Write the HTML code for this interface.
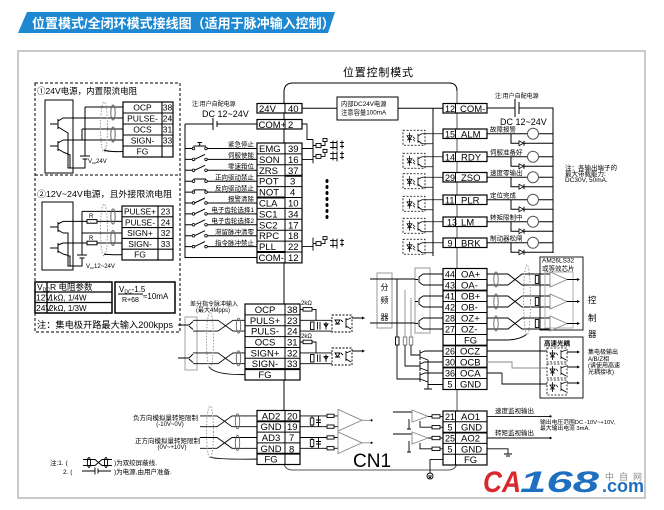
<!DOCTYPE html>
<html><head><meta charset="utf-8"><style>
html,body{margin:0;padding:0;background:#fff;}
svg{display:block;}
text{font-family:"Liberation Sans","Noto Sans CJK SC",sans-serif;fill:#000;}
</style></head><body>
<svg width="664" height="510" viewBox="0 0 664 510" xmlns="http://www.w3.org/2000/svg">
<rect width="664" height="510" fill="#fff"/>
<!-- Banner -->
<polygon points="27,12 335,12 328,33 18,33" fill="#1e88d2"/>
<text x="32" y="28" font-size="13" font-weight="bold" style="fill:#fff">位置模式/全闭环模式接线图（适用于脉冲输入控制）</text>
<!-- Frame -->
<rect x="18" y="51" width="627" height="447" fill="none" stroke="#c9c9c9" stroke-width="2"/>
<text x="343" y="76" font-size="11" letter-spacing="0.8">位置控制模式</text>

<!-- CN1 main box -->
<path d="M284,462 V92 Q284,83 293,83 H449 Q457,83 457,91" fill="none" stroke="#000"/>
<path d="M457,91 V461" stroke="#aaa" stroke-width="2" fill="none"/>
<path d="M457,461 Q457,470 448,470 H293 Q284,470 284,462" stroke="#555" fill="none"/>
<text x="353" y="467" font-size="19">CN1</text>

<!-- ============ Section 1/2 dashed box ============ -->
<g fill="none" stroke="#000">
<rect x="35" y="83" width="145" height="249" stroke-dasharray="3,2"/>
<path d="M35,175 H180" stroke-dasharray="3,2"/>
<rect x="45" y="100" width="28" height="73"/>
<path d="M50,124 H58 M58,119 V129 M58,121 L63,118 M58,127 L63,130 M50,146 H58 M58,141 V151 M58,143 L63,140 M58,149 L63,152"/>
<path d="M63,118 H123 M63,140 H123 M85,107 H123 M85,107 V156 M82,129 H123 M82,129 V140"/>
<path d="M80,156 H90 M82.5,159 H87.5 M85,159 V168 H68 V133 L63,130 M63,152 L70,155 V168"/>
<rect x="123" y="102" width="50" height="55" stroke-width="1.2"/>
<path d="M123,113 H173 M123,124 H173 M123,135 H173 M123,146 H173 M162,102 V157" stroke-width="1.1"/>
<ellipse cx="104" cy="127" rx="3.5" ry="25" stroke="#999" stroke-dasharray="1.5,1.5"/>
<ellipse cx="113" cy="112.5" rx="2.2" ry="7.5" stroke="#666"/>
<ellipse cx="113" cy="134.5" rx="2.2" ry="7.5" stroke="#666"/>
<path d="M104,150 Q108,152 123,151.5"/>
<rect x="42" y="202" width="31" height="68"/>
<path d="M50,227 H58 M58,222 V232 M58,224 L63,221.4 M58,230 L63,233 M50,248 H58 M58,243 V253 M58,245 L63,243 M58,251 L63,254"/>
<path d="M82,211.4 H122 M82,233 H122 M82,211.4 V255 M77,255 H87 M79.5,258 H84.5 M82,258 V266 H68 V233 L63,233 M63,254 L70,256 V266"/>
<path d="M63,221.4 H87 M97,221.4 H122 M63,243 H87 M97,243 H122"/>
<rect x="87" y="219.6" width="10" height="3.6"/>
<rect x="87" y="241.2" width="10" height="3.6"/>
<rect x="122" y="206" width="51" height="54" stroke-width="1.2"/>
<path d="M122,216.8 H173 M122,227.6 H173 M122,238.4 H173 M122,249.2 H173 M158,206 V260" stroke-width="1.1"/>
<ellipse cx="104" cy="230" rx="3.5" ry="26" stroke="#999" stroke-dasharray="1.5,1.5"/>
<ellipse cx="113" cy="216.5" rx="2.2" ry="7.5" stroke="#666"/>
<ellipse cx="113" cy="238" rx="2.2" ry="7.5" stroke="#666"/>
<path d="M104,254 Q108,255 122,254.6"/>
<rect x="35" y="282" width="77" height="31" stroke-width="1.5"/>
<path d="M35,292 H112 M35,302.5 H112 M47,282 V313" stroke-width="1.3"/>
<rect x="115" y="282" width="60" height="31" stroke-width="1.5"/>
<path d="M118,294 H143"/>
</g>
<text x="37" y="94" font-size="8.5">①24V电源，内置限流电阻</text>
<text x="37" y="197" font-size="8.6" textLength="135" lengthAdjust="spacingAndGlyphs">②12V~24V电源，且外接限流电阻</text>
<g font-size="8.5" text-anchor="middle">
<text x="142.5" y="110.5">OCP</text><text x="142.5" y="121.5">PULSE-</text><text x="142.5" y="132.5">OCS</text><text x="142.5" y="143.5">SIGN-</text><text x="142.5" y="154.5">FG</text>
<text x="167.5" y="110.5">38</text><text x="167.5" y="121.5">24</text><text x="167.5" y="132.5">31</text><text x="167.5" y="143.5">33</text>
<text x="140" y="214.5" font-size="8.3">PULSE+</text><text x="140" y="225.3" font-size="8.3">PULSE-</text><text x="140" y="236.1">SIGN+</text><text x="140" y="246.9">SIGN-</text><text x="140" y="257.6">FG</text>
<text x="165.5" y="214.5">23</text><text x="165.5" y="225.3">24</text><text x="165.5" y="236.1">32</text><text x="165.5" y="246.9">33</text>
</g>
<g font-size="6">
<text x="88" y="163">V<tspan font-size="4" dy="1">cc</tspan><tspan dy="-1">24V</tspan></text>
<text x="86" y="268">V<tspan font-size="4" dy="1">cc</tspan><tspan dy="-1">12~24V</tspan></text>
<text x="89" y="218">R</text><text x="89" y="239.8">R</text>
</g>
<g font-size="8.5">
<text x="37" y="290">V<tspan font-size="5" dy="1.5">DC</tspan></text>
<text x="50" y="290">R  电阻参数</text>
<text x="36" y="300.5">12V</text><text x="49" y="300.5" font-size="8">1kΩ, 1/4W</text>
<text x="36" y="311">24V</text><text x="49" y="311" font-size="8">2kΩ, 1/3W</text>
<text x="119" y="292" font-size="8">V<tspan font-size="5" dy="1.5">DC</tspan><tspan dy="-1.5">-1.5</tspan></text>
<text x="122" y="302" font-size="7">R+68</text>
<text x="143" y="299" font-size="8">≈10mA</text>
</g>
<text x="37" y="328" font-size="9" textLength="136" lengthAdjust="spacingAndGlyphs">注：集电极开路最大输入200kpps</text>

<!-- ============ Switch inputs ============ -->
<g fill="none" stroke="#000">
<path d="M185,124 H213 M213,118 V130 M217,121 V127 M217,124 H257 M185,124 V257.5 H257"/>
<path d="M185,148.5 H192 M207.3,148.5 H257 M193.5,146 H206 M199.7,146 V142.5 M197.5,142.5 H202"/>
<path d="M185,159.4 H192 M207.3,159.4 H257 M194.5,159.4 L205,154.4"/>
<path d="M185,170.3 H192 M207.3,170.3 H257 M194.5,170.3 L205,165.3"/>
<path d="M185,181.2 H192 M207.3,181.2 H257 M193.5,179 H206"/>
<path d="M185,192.1 H192 M207.3,192.1 H257 M193.5,189.9 H206"/>
<path d="M185,203 H192 M207.3,203 H257 M194.5,203 L205,198"/>
<path d="M185,213.9 H192 M207.3,213.9 H257 M194.5,213.9 L205,208.9"/>
<path d="M185,224.8 H192 M207.3,224.8 H257 M194.5,224.8 L205,219.8"/>
<path d="M185,235.7 H192 M207.3,235.7 H257 M194.5,235.7 L205,230.7"/>
<path d="M185,246.6 H192 M207.3,246.6 H257 M194.5,246.6 L205,241.6"/>
</g>
<g fill="#fff" stroke="#000" stroke-width="0.8">
<circle cx="193.5" cy="148.5" r="1.3"/><circle cx="206" cy="148.5" r="1.3"/>
<circle cx="193.5" cy="159.4" r="1.3"/><circle cx="206" cy="159.4" r="1.3"/>
<circle cx="193.5" cy="170.3" r="1.3"/><circle cx="206" cy="170.3" r="1.3"/>
<circle cx="193.5" cy="181.2" r="1.3"/><circle cx="206" cy="181.2" r="1.3"/>
<circle cx="193.5" cy="192.1" r="1.3"/><circle cx="206" cy="192.1" r="1.3"/>
<circle cx="193.5" cy="203" r="1.3"/><circle cx="206" cy="203" r="1.3"/>
<circle cx="193.5" cy="213.9" r="1.3"/><circle cx="206" cy="213.9" r="1.3"/>
<circle cx="193.5" cy="224.8" r="1.3"/><circle cx="206" cy="224.8" r="1.3"/>
<circle cx="193.5" cy="235.7" r="1.3"/><circle cx="206" cy="235.7" r="1.3"/>
<circle cx="193.5" cy="246.6" r="1.3"/><circle cx="206" cy="246.6" r="1.3"/>
</g>
<g font-size="6.5" text-anchor="end">
<text x="254" y="146.7">紧急停止</text>
<text x="254" y="157.6">伺服使能</text>
<text x="254" y="168.5">零速箝位</text>
<text x="254" y="179.4">正向驱动禁止</text>
<text x="254" y="190.3">反向驱动禁止</text>
<text x="254" y="201.2">报警清除</text>
<text x="254" y="212.1">电子齿轮选择1</text>
<text x="254" y="223">电子齿轮选择2</text>
<text x="254" y="233.9">滞留脉冲清零</text>
<text x="254" y="244.8">指令脉冲禁止</text>
</g>
<text x="192" y="106" font-size="6">注:用户自配电源</text>
<text x="202" y="117" font-size="9">DC 12~24V</text>

<!-- Table A -->
<g fill="#fff" stroke="#000" stroke-width="1.2">
<rect x="257" y="103.5" width="45" height="9.5"/>
<rect x="257" y="119.5" width="45" height="9.5"/>
<rect x="257" y="143" width="45" height="119.9"/>
</g>
<path d="M285,103.5 V113 M285,119.5 V129 M285,143 V262.9 M257,153.9 H302 M257,164.8 H302 M257,175.7 H302 M257,186.6 H302 M257,197.5 H302 M257,208.4 H302 M257,219.3 H302 M257,230.2 H302 M257,241.1 H302 M257,252 H302" stroke="#000" fill="none"/>
<path d="M285,175.7 H302 M257,197.5 H285 M257,252 H285" stroke="#000" stroke-width="2" fill="none"/>
<g font-size="9.5">
<text x="259" y="111.8">24V</text><text x="288" y="111.8">40</text>
<text x="258.5" y="127.8">COM+</text><text x="288" y="127.8">2</text>
<text x="259" y="152">EMG</text><text x="288" y="152">39</text>
<text x="259" y="162.9">SON</text><text x="288" y="162.9">16</text>
<text x="259" y="173.8">ZRS</text><text x="288" y="173.8">37</text>
<text x="259" y="184.7">POT</text><text x="290" y="184.7">3</text>
<text x="259" y="195.6">NOT</text><text x="290" y="195.6">4</text>
<text x="259" y="206.5">CLA</text><text x="288" y="206.5">10</text>
<text x="259" y="217.4">SC1</text><text x="288" y="217.4">34</text>
<text x="259" y="228.3">SC2</text><text x="288" y="228.3">17</text>
<text x="259" y="239.2">RPC</text><text x="288" y="239.2">18</text>
<text x="259" y="250.1">PLL</text><text x="288" y="250.1">22</text>
<text x="258.5" y="261">COM-</text><text x="288" y="261">12</text>
</g>

<!-- Relays -->
<g fill="none" stroke="#000" stroke-width="0.9">
<path d="M302,124 H307 V139.5 H313"/>
<path d="M302,148.5 H313 M313,139.5 V152.5 M313,145.5 H316 M321,145.5 H325 V141.5 M330,142.5 H337 M330,147.5 H337 M333,140.5 V149.5 M337,140.5 V150.5 M340,142.5 H344 M340,146.5 H344 M342,140.5 V148.5"/>
<rect x="316" y="143.5" width="5" height="4"/><rect x="323" y="138.5" width="4" height="3"/>
<path d="M302,159.4 H313 M313,150.4 V163.4 M313,156.4 H316 M321,156.4 H325 V152.4 M330,153.4 H337 M330,158.4 H337 M333,151.4 V160.4 M337,151.4 V161.4 M340,153.4 H344 M340,157.4 H344 M342,151.4 V159.4"/>
<rect x="316" y="154.4" width="5" height="4"/><rect x="323" y="149.4" width="4" height="3"/>
<path d="M302,246.6 H313 M313,237.6 V250.6 M313,243.6 H316 M321,243.6 H325 V239.6 M330,240.6 H337 M330,245.6 H337 M333,238.6 V247.6 M337,238.6 V248.6 M340,240.6 H344 M340,244.6 H344 M342,238.6 V246.6"/>
<rect x="316" y="241.6" width="5" height="4"/><rect x="323" y="236.6" width="4" height="3"/>
</g>
<g fill="#000">
<ellipse cx="327" cy="181" rx="1.5" ry="2"/><ellipse cx="327" cy="187" rx="1.5" ry="2"/><ellipse cx="327" cy="193" rx="1.5" ry="2"/><ellipse cx="327" cy="199" rx="1.5" ry="2"/><ellipse cx="327" cy="205" rx="1.5" ry="2"/><ellipse cx="327" cy="211" rx="1.5" ry="2"/><ellipse cx="327" cy="217" rx="1.5" ry="2"/>
</g>

<!-- Internal 24V -->
<g fill="none" stroke="#000">
<path d="M302,108.3 H337 M398,108.3 H443"/>
<rect x="337" y="97" width="61" height="23"/>
</g>
<text x="341" y="106" font-size="6.3">内部DC24V电源</text>
<text x="341" y="114.5" font-size="6.3">注意容量100mA</text>

<!-- Right outputs -->
<g fill="none" stroke="#000">
<path d="M433,108 V256"/>
<path d="M487,108 H515 M515,99 V117 M519,102 V114 M519,108 H553 V253"/>
</g>
<text x="495" y="98" font-size="6">注:用户自配电源</text>
<text x="500" y="125" font-size="9">DC 12~24V</text>
<g font-size="6.5">
<text x="565" y="170">注：各输出端子的</text>
<text x="565" y="176">最大带载能力:</text>
<text x="565" y="182">DC30V, 50mA.</text>
</g>
<g fill="none" stroke="#000" stroke-width="0.8">
<g transform="translate(0,133.75)"><rect x="403" y="-3.5" width="22" height="15" stroke-dasharray="2,1.5"/><path d="M407,2 H412 L409.5,6 Z M407,6 H412 M409.5,-1 V9 M413,3 L415,5 M413,5.5 L415,7.5 M418,0 V9 M418,2 L422,-0 M418,7 L422,10 M422,0 H443 M422,10 H433"/></g>
<g transform="translate(0,156.75)"><rect x="403" y="-3.5" width="22" height="15" stroke-dasharray="2,1.5"/><path d="M407,2 H412 L409.5,6 Z M407,6 H412 M409.5,-1 V9 M413,3 L415,5 M413,5.5 L415,7.5 M418,0 V9 M418,2 L422,-0 M418,7 L422,10 M422,0 H443 M422,10 H433"/></g>
<g transform="translate(0,177.25)"><rect x="403" y="-3.5" width="22" height="15" stroke-dasharray="2,1.5"/><path d="M407,2 H412 L409.5,6 Z M407,6 H412 M409.5,-1 V9 M413,3 L415,5 M413,5.5 L415,7.5 M418,0 V9 M418,2 L422,-0 M418,7 L422,10 M422,0 H443 M422,10 H433"/></g>
<g transform="translate(0,199.75)"><rect x="403" y="-3.5" width="22" height="15" stroke-dasharray="2,1.5"/><path d="M407,2 H412 L409.5,6 Z M407,6 H412 M409.5,-1 V9 M413,3 L415,5 M413,5.5 L415,7.5 M418,0 V9 M418,2 L422,-0 M418,7 L422,10 M422,0 H443 M422,10 H433"/></g>
<g transform="translate(0,221.75)"><rect x="403" y="-3.5" width="22" height="15" stroke-dasharray="2,1.5"/><path d="M407,2 H412 L409.5,6 Z M407,6 H412 M409.5,-1 V9 M413,3 L415,5 M413,5.5 L415,7.5 M418,0 V9 M418,2 L422,-0 M418,7 L422,10 M422,0 H443 M422,10 H433"/></g>
<g transform="translate(0,242.75)"><rect x="403" y="-3.5" width="22" height="15" stroke-dasharray="2,1.5"/><path d="M407,2 H412 L409.5,6 Z M407,6 H412 M409.5,-1 V9 M413,3 L415,5 M413,5.5 L415,7.5 M418,0 V9 M418,2 L422,-0 M418,7 L422,10 M422,0 H443 M422,10 H433"/></g>
</g>
<g fill="none" stroke="#000">
<g transform="translate(0,133.75)"><path d="M487,0 H527.5 M538.5,0 H553 M511,0 V9.5 H519 M524,7 V12 M524,9.5 H553"/><circle cx="533" cy="0" r="5.5" stroke="#555"/><polygon points="519,7 519,12 523.5,9.5" stroke-width="0.8"/></g>
<g transform="translate(0,156.75)"><path d="M487,0 H527.5 M538.5,0 H553 M511,0 V9.5 H519 M524,7 V12 M524,9.5 H553"/><circle cx="533" cy="0" r="5.5" stroke="#555"/><polygon points="519,7 519,12 523.5,9.5" stroke-width="0.8"/></g>
<g transform="translate(0,177.25)"><path d="M487,0 H527.5 M538.5,0 H553 M511,0 V9.5 H519 M524,7 V12 M524,9.5 H553"/><circle cx="533" cy="0" r="5.5" stroke="#555"/><polygon points="519,7 519,12 523.5,9.5" stroke-width="0.8"/></g>
<g transform="translate(0,199.75)"><path d="M487,0 H527.5 M538.5,0 H553 M511,0 V9.5 H519 M524,7 V12 M524,9.5 H553"/><circle cx="533" cy="0" r="5.5" stroke="#555"/><polygon points="519,7 519,12 523.5,9.5" stroke-width="0.8"/></g>
<g transform="translate(0,221.75)"><path d="M487,0 H527.5 M538.5,0 H553 M511,0 V9.5 H519 M524,7 V12 M524,9.5 H553"/><circle cx="533" cy="0" r="5.5" stroke="#555"/><polygon points="519,7 519,12 523.5,9.5" stroke-width="0.8"/></g>
<g transform="translate(0,242.75)"><path d="M487,0 H527.5 M538.5,0 H553 M511,0 V9.5 H519 M524,7 V12 M524,9.5 H553"/><circle cx="533" cy="0" r="5.5" stroke="#555"/><polygon points="519,7 519,12 523.5,9.5" stroke-width="0.8"/></g>
</g>
<g font-size="6.5">
<text x="490" y="131.5">故障报警</text>
<text x="490" y="154.5">伺服准备好</text>
<text x="490" y="175">速度零输出</text>
<text x="490" y="197.5">定位完成</text>
<text x="490" y="219.5">转矩限制中</text>
<text x="490" y="240.5">制动器松闸</text>
</g>
<g fill="#fff" stroke="#000" stroke-width="1.2">
<rect x="443" y="103.5" width="44" height="9.5"/>
<rect x="443" y="129" width="44" height="9.5"/>
<rect x="443" y="152" width="44" height="9.5"/>
<rect x="443" y="172.5" width="44" height="9.5"/>
<rect x="443" y="195" width="44" height="9.5"/>
<rect x="443" y="217" width="44" height="9.5"/>
<rect x="443" y="238" width="44" height="9.5"/>
</g>
<path d="M455.5,103.5 V113 M455.5,129 V138.5 M455.5,152 V161.5 M455.5,172.5 V182 M455.5,195 V204.5 M455.5,217 V226.5 M455.5,238 V247.5" stroke="#000"/>
<g font-size="9.5">
<text x="445" y="111.8" font-size="9">12</text><text x="460" y="111.8">COM-</text>
<text x="445" y="137.3" font-size="9">15</text><text x="461" y="137.3">ALM</text>
<text x="445" y="160.3" font-size="9">14</text><text x="461" y="160.3">RDY</text>
<text x="445" y="180.8" font-size="9">29</text><text x="461" y="180.8">ZSO</text>
<text x="445" y="203.3" font-size="9">11</text><text x="461" y="203.3">PLR</text>
<text x="447" y="225.3" font-size="9">13</text><text x="461" y="225.3">LM</text>
<text x="447.5" y="246.3" font-size="9">9</text><text x="461" y="246.3">BRK</text>
</g>

<!-- ============ Encoder section ============ -->
<g fill="none" stroke="#999">
<rect x="377" y="273" width="15" height="55"/>
<rect x="415" y="268" width="15" height="65"/>
<path d="M405,290 V337 M411,298 V337"/>
</g>
<g font-size="8" text-anchor="middle">
<text x="384.5" y="290">分</text><text x="384.5" y="303">频</text><text x="384.5" y="320">器</text>
</g>
<g fill="none" stroke="#000" stroke-width="0.9">
<path d="M370,279 H415 M370,323 H415 M397,279 V337"/>
<path d="M423,274 H443 M423,285 H443 M423,296 H443 M423,307 H443 M423,318 H443 M423,329 H443"/>
<path d="M415,279.5 H418 M423,274 L419,277 V282 L423,285 M415,301.5 H418 M423,296 L419,299 V304 L423,307 M415,323.5 H418 M423,318 L419,321 V326 L423,329"/>
<rect x="395.5" y="337" width="3.5" height="8"/><rect x="403.3" y="337" width="3.5" height="8" stroke="#777"/><rect x="409.3" y="337" width="3.5" height="8" stroke="#777"/>
<path d="M397,345 V379 H420 M405,345 V366 H420 M411,345 V355 H420"/>
<path d="M420,350 V360 M420,353 L425,351 H443 M420,357 L428,360 M420,361 V371 M420,364 L425,362 H443 M420,368 L428,371 M420,372 V382 M420,375 L425,373 H443 M420,379 L428,382 M428,360 V389 M428,384.5 H443 M424,389 H432"/>
</g>
<rect x="443" y="268.5" width="44" height="121" fill="#fff" stroke="#000" stroke-width="1.2"/>
<path d="M443,279.5 H487 M443,290.5 H487 M443,301.5 H487 M443,312.5 H487 M443,323.5 H487 M443,334.5 H487 M443,345.5 H487 M443,356.5 H487 M443,367.5 H487 M443,378.5 H487 M455.5,268.5 V389.5" stroke="#000" fill="none"/>
<path d="M443,290.5 H487 M443,345.5 H487 M443,367.5 H487" stroke="#000" stroke-width="1.8"/>
<g font-size="9.5">
<text x="445" y="277.5" font-size="9">44</text><text x="461" y="277.5">OA+</text>
<text x="445" y="288.5" font-size="9">43</text><text x="461" y="288.5">OA-</text>
<text x="445" y="299.5" font-size="9">41</text><text x="461" y="299.5">OB+</text>
<text x="445" y="310.5" font-size="9">42</text><text x="461" y="310.5">OB-</text>
<text x="445" y="321.5" font-size="9">28</text><text x="461" y="321.5">OZ+</text>
<text x="445" y="332.5" font-size="9">27</text><text x="461" y="332.5">OZ-</text>
<text x="464" y="343.5">FG</text>
<text x="445" y="354.5" font-size="9">26</text><text x="460" y="354.5">OCZ</text>
<text x="445" y="365.5" font-size="9">30</text><text x="460" y="365.5">OCB</text>
<text x="445" y="376.5" font-size="9">36</text><text x="460" y="376.5">OCA</text>
<text x="447.5" y="387.5" font-size="9">5</text><text x="460" y="387.5">GND</text>
</g>
<g fill="none" stroke="#000" stroke-width="0.9">
<path d="M487,274 H508 L522,285 H550 M487,285 H508 L522,274 H550"/>
<path d="M487,296 H508 L522,307 H550 M487,307 H508 L522,296 H550"/>
<path d="M487,318 H508 L522,329 H550 M487,329 H508 L522,318 H550"/>
<ellipse cx="496" cy="279.5" rx="2.2" ry="7.5" stroke="#666"/>
<ellipse cx="496" cy="301.5" rx="2.2" ry="7.5" stroke="#666"/>
<ellipse cx="496" cy="323.5" rx="2.2" ry="7.5" stroke="#666"/>
<rect x="535.3" y="275.5" width="3.5" height="8" fill="#fff"/>
<rect x="535.3" y="297.5" width="3.5" height="8" fill="#fff"/>
<rect x="535.3" y="319.5" width="3.5" height="8" fill="#fff"/>
<path d="M487,340 H505 Q520,340 527,334"/>
<rect x="540" y="257" width="43" height="73"/>
<rect x="545" y="272" width="28" height="56" stroke="#aaa"/>
<polygon points="550,272 550,287 567,279.5" stroke="#888"/>
<polygon points="550,294 550,309 567,301.5" stroke="#888"/>
<polygon points="550,316 550,331 567,323.5" stroke="#888"/>
<path d="M567,279.5 H577 M567,301.5 H577 M567,323.5 H577"/>
<rect x="540" y="337" width="43" height="61"/>
<path d="M487,351 H547 M502,373 V384 H547 M487,373 H502"/>
<path d="M487,362 H512 V368 H547" stroke="#888"/>
<path d="M567,352 H577 M567,367 H577 M567,383 H577"/>
</g>
<ellipse cx="527" cy="300" rx="3.5" ry="35" fill="none" stroke="#999" stroke-dasharray="1.5,1.5"/>
<g fill="#000">
<polygon points="577,278 580,279.5 577,281"/><polygon points="577,300 580,301.5 577,303"/><polygon points="577,322 580,323.5 577,325"/>
<polygon points="577,350.5 580,352 577,353.5"/><polygon points="577,365.5 580,367 577,368.5"/><polygon points="577,381.5 580,383 577,384.5"/>
</g>
<g fill="none" stroke="#000" stroke-width="0.8">
<g transform="translate(0,348)"><rect x="547" y="0" width="20" height="14" stroke-dasharray="2,1.5"/><path d="M550,5 H555 L552.5,9 Z M550,9 H555 M552.5,2 V12 M556,5 L558,7 M561,2 V11 M561,4 L566,2 M561,9 L566,12"/></g>
<g transform="translate(0,364)"><rect x="547" y="0" width="20" height="14" stroke-dasharray="2,1.5"/><path d="M550,5 H555 L552.5,9 Z M550,9 H555 M552.5,2 V12 M556,5 L558,7 M561,2 V11 M561,4 L566,2 M561,9 L566,12"/></g>
<g transform="translate(0,380)"><rect x="547" y="0" width="20" height="15" stroke-dasharray="2,1.5"/><path d="M550,5 H555 L552.5,9 Z M550,9 H555 M552.5,2 V12 M556,5 L558,7 M561,2 V11 M561,4 L566,2 M561,9 L566,12"/></g>
</g>
<g font-size="6.5">
<text x="542" y="262.5">AM26LS32</text>
<text x="542" y="270.5">或等效芯片</text>
<text x="544" y="345.5" font-weight="bold">高速光耦</text>
</g>
<g font-size="8.5">
<text x="588" y="303">控</text><text x="588" y="321">制</text><text x="588" y="337">器</text>
</g>
<g font-size="6">
<text x="588" y="354">集电极输出</text>
<text x="588" y="361">A/B/Z相</text>
<text x="588" y="367.5">(请使用高速</text>
<text x="588" y="374">光耦接收)</text>
</g>

<!-- ============ Differential input ============ -->
<text x="190" y="306" font-size="6">差分指令脉冲输入</text>
<text x="196" y="312" font-size="6">(最大4Mpps)</text>
<g fill="none" stroke="#000" stroke-width="0.9">
<rect x="185" y="317" width="12" height="53" stroke="#999"/>
<path d="M178,325 H189 M189,325 L193,321.5 M189,326 L193,329.5 M193,320.3 H197 M193,331.1 H197"/>
<path d="M178,358 H189 M189,358 L193,354 M189,359 L193,362.5 M193,352.9 H197 M193,363.7 H197"/>
<path d="M197,320.3 H218 L233,331.1 H245 M197,331.1 H218 L233,320.3 H245"/>
<path d="M197,352.9 H218 L233,363.7 H245 M197,363.7 H218 L233,352.9 H245"/>
<ellipse cx="238.5" cy="325.7" rx="2.2" ry="7.5" stroke="#666"/>
<ellipse cx="238.5" cy="358.3" rx="2.2" ry="7.5" stroke="#666"/>
<path d="M209,367 Q215,375 245,374.6"/>
</g>
<ellipse cx="210" cy="340" rx="3.5" ry="28" fill="none" stroke="#999" stroke-dasharray="1.5,1.5"/>
<rect x="245" y="304" width="55" height="76" fill="#fff" stroke="#000" stroke-width="1.2"/>
<path d="M245,314.86 H300 M245,325.72 H300 M245,336.58 H300 M245,347.44 H300 M245,358.3 H300 M285,304 V380" stroke="#000" fill="none"/>
<path d="M245,369.16 H300" stroke="#000" stroke-width="2"/>
<g font-size="9.5" text-anchor="middle">
<text x="265" y="312.9">OCP</text><text x="265" y="323.8">PULS+</text><text x="265" y="334.6">PULS-</text><text x="265" y="345.5">OCS</text><text x="265" y="356.4">SIGN+</text><text x="265" y="367.2">SIGN-</text><text x="265" y="378.1">FG</text>
</g>
<g font-size="9.5">
<text x="287" y="312.9">38</text><text x="287" y="323.8">23</text><text x="287" y="334.6">24</text><text x="287" y="345.5">31</text><text x="287" y="356.4">32</text><text x="287" y="367.2">33</text>
</g>
<g fill="none" stroke="#000" stroke-width="0.9">
<path d="M300,309.4 H303 M312,309.4 H316 V320.3 M300,320.3 H332 M300,331.1 H332"/>
<rect x="303" y="307.6" width="9" height="3.5"/>
<rect x="310.5" y="322" width="3.5" height="7.5" fill="#fff"/>
<path d="M317.5,322 V329.5 M320,322 V329.5 M326,322 V329.5 M324,324 H328 L326,327 Z"/>
<rect x="332" y="315" width="20" height="17" stroke-dasharray="2,1.5"/>
<path d="M335,320 H340 L337.5,324 Z M335,324 H340 M341,320 L343,322 M346,318 V328 M346,320 L351,318 M346,326 L351,329 M352,318 H362"/>
<path d="M300,342 H303 M312,342 H316 V352.9 M300,352.9 H332 M300,363.7 H332"/>
<rect x="303" y="340.2" width="9" height="3.5"/>
<rect x="310.5" y="354.5" width="3.5" height="7.5" fill="#fff"/>
<path d="M317.5,354.5 V362 M320,354.5 V362 M326,354.5 V362 M324,356.5 H328 L326,359.5 Z"/>
<rect x="332" y="348" width="20" height="17" stroke-dasharray="2,1.5"/>
<path d="M335,353 H340 L337.5,357 Z M335,357 H340 M341,353 L343,355 M346,351 V361 M346,353 L351,351 M346,359 L351,362 M352,351 H362"/>
</g>
<polygon points="362,316.5 365,318 362,319.5" fill="#000"/>
<polygon points="362,349.5 365,351 362,352.5" fill="#000"/>
<text x="301" y="305" font-size="6">2kΩ</text>
<text x="301" y="338" font-size="6">2kΩ</text>

<!-- ============ Analog input (AD) ============ -->
<g font-size="6.5" text-anchor="end">
<text x="198" y="420">负方向模拟量转矩限制</text>
<text x="200" y="443">正方向模拟量转矩限制</text>
</g>
<g font-size="6" text-anchor="middle">
<text x="170" y="426">(-10V~0V)</text>
<text x="172" y="449">(0V~+10V)</text>
</g>
<g fill="none" stroke="#000" stroke-width="0.9">
<path d="M200,415.9 H217 L232,426.7 H257 M200,426.7 H217 L232,415.9 H257"/>
<path d="M200,437.5 H217 L232,448.3 H257 M200,448.3 H217 L232,437.5 H257"/>
<ellipse cx="237.5" cy="421.3" rx="2.2" ry="7.5" stroke="#666"/>
<ellipse cx="237.5" cy="442.9" rx="2.2" ry="7.5" stroke="#666"/>
<path d="M210,457 Q215,459.5 257,459.1"/>
</g>
<ellipse cx="210" cy="432" rx="3.5" ry="26" fill="none" stroke="#999" stroke-dasharray="1.5,1.5"/>
<rect x="257" y="410.5" width="43" height="54" fill="#fff" stroke="#000" stroke-width="1.2"/>
<path d="M257,421.3 H300 M257,432.1 H300 M257,442.9 H300 M285,410.5 V464.5" stroke="#000" fill="none"/>
<path d="M257,453.7 H300 M257,421.3 H300" stroke="#000" stroke-width="1.8"/>
<g font-size="9.5" text-anchor="middle">
<text x="271" y="419.4">AD2</text><text x="271" y="430.2">GND</text><text x="271" y="441">AD3</text><text x="271" y="451.8">GND</text><text x="271" y="462.6">FG</text>
</g>
<g font-size="9.5">
<text x="287" y="419.4">20</text><text x="287" y="430.2">19</text><text x="289" y="441">7</text><text x="289" y="452.3">8</text>
</g>
<g fill="none" stroke="#000" stroke-width="0.9">
<path d="M300,415.9 H327 M334,415.9 H338 M300,426.7 H327 M334,426.7 H338 M312,415.9 V418 M312,425 V426.7 M318.5,415.9 V426.7"/>
<rect x="310.3" y="418" width="3.5" height="7" fill="#fff"/>
<path d="M316,420 H321 M316,422.5 H321" stroke-width="1"/>
<rect x="327" y="414.2" width="7" height="3.3" fill="#fff"/>
<rect x="327" y="425" width="7" height="3.3" fill="#fff"/>
<path d="M300,437.5 H327 M334,437.5 H338 M300,448.3 H327 M334,448.3 H338 M312,437.5 V439.5 M312,446.5 V448.3 M318.5,437.5 V448.3"/>
<rect x="310.3" y="439.5" width="3.5" height="7" fill="#fff"/>
<path d="M316,441.5 H321 M316,444 H321" stroke-width="1"/>
<rect x="327" y="435.8" width="7" height="3.3" fill="#fff"/>
<rect x="327" y="446.6" width="7" height="3.3" fill="#fff"/>
<polygon points="338,409.5 338,431 362,420.3" stroke="#888"/>
<polygon points="338,432 338,453.5 362,442.8" stroke="#888"/>
<path d="M362,420.3 H370 M362,442.8 H370" stroke="#888"/>
</g>
<circle cx="371.5" cy="420.3" r="1.1" fill="#000"/>
<circle cx="371.5" cy="442.8" r="1.1" fill="#000"/>

<!-- ============ Analog output (AO) ============ -->
<g fill="none" stroke="#000" stroke-width="0.9">
<path d="M393,412 H412 M393,434 H412"/>
<polygon points="412,410 412,422 428,416.4" stroke="#888"/>
<polygon points="412,432 412,444 428,438" stroke="#888"/>
<path d="M409,419 V429 M407,429 H411 M409,441 V452 M407,452 H411"/>
<path d="M428,416.4 H432 M440,416.4 H443 M420,421 V427.2 H432 M440,427.2 H443 M428,438 H432 M440,438 H443 M420,443 V448.8 H432 M440,448.8 H443"/>
<rect x="432" y="414.7" width="8" height="3.4"/>
<rect x="432" y="425.5" width="8" height="3.4"/>
<rect x="432" y="436.3" width="8" height="3.4"/>
<rect x="432" y="447.1" width="8" height="3.4"/>
<path d="M487,416.4 H550 M487,438 H550 M487,448.8 H508 V454 M504,454 H512 M506,456 H510"/>
<path d="M443,459.6 H430 V473"/>
<circle cx="430" cy="476" r="3"/>
<path d="M428,476 H432 M429,477.5 H431"/>
</g>
<circle cx="550.5" cy="416.4" r="1.1" fill="#000"/>
<circle cx="550.5" cy="438" r="1.1" fill="#000"/>
<rect x="443" y="411" width="44" height="54" fill="#fff" stroke="#000" stroke-width="1.2"/>
<path d="M443,421.8 H487 M443,432.6 H487 M443,443.4 H487 M443,454.2 H487 M455.5,411 V465" stroke="#000" fill="none"/>
<path d="M443,432.6 H487" stroke="#000" stroke-width="1.8"/>
<g font-size="9.5">
<text x="445" y="419.9" font-size="9">21</text><text x="461" y="419.9">AO1</text>
<text x="447.5" y="430.7" font-size="9">5</text><text x="461" y="430.7">GND</text>
<text x="445" y="441.5" font-size="9">25</text><text x="461" y="441.5">AO2</text>
<text x="447.5" y="452.3" font-size="9">5</text><text x="461" y="452.3">GND</text>
<text x="464" y="463.1">FG</text>
</g>
<g font-size="6.5">
<text x="495" y="413">速度监视输出</text>
<text x="495" y="435">转矩监视输出</text>
</g>
<g font-size="5.8">
<text x="540" y="424">输出电压范围DC -10V~+10V,</text>
<text x="540" y="430">最大输出电流 3mA.</text>
</g>

<!-- Notes bottom-left -->
<g font-size="6.5">
<text x="50" y="465">注:1. (</text>
<text x="114" y="465">)为双绞屏蔽线.</text>
<text x="63" y="474">2. (</text>
<text x="114" y="474">)为电源,由用户准备.</text>
</g>
<g fill="none" stroke="#000" stroke-width="0.9">
<path d="M83,459.5 H95 L102,465.5 H112 M83,465.5 H95 L102,459.5 H112"/>
<ellipse cx="89" cy="462.5" rx="1.6" ry="5"/>
<ellipse cx="106" cy="462.5" rx="1.6" ry="5"/>
<path d="M82,471 H95 M95,467.5 V474.5 M98,468.5 V473.5 M98,471 H111"/>
</g>

<!-- Logo -->
<text x="483" y="492" font-size="30" font-weight="bold" font-style="italic" textLength="38" lengthAdjust="spacingAndGlyphs" style="fill:#d8282b">CA</text>
<text x="520" y="492" font-size="30" font-weight="bold" font-style="italic" textLength="79" lengthAdjust="spacingAndGlyphs" style="fill:#1f6fc0">168</text>
<text x="602" y="492" font-size="18" font-weight="bold" textLength="42" lengthAdjust="spacingAndGlyphs" style="fill:#1f6fc0">.com</text>
<text x="605" y="480" font-size="9" letter-spacing="5" style="fill:#888">中自网</text>
</svg>
</body></html>
